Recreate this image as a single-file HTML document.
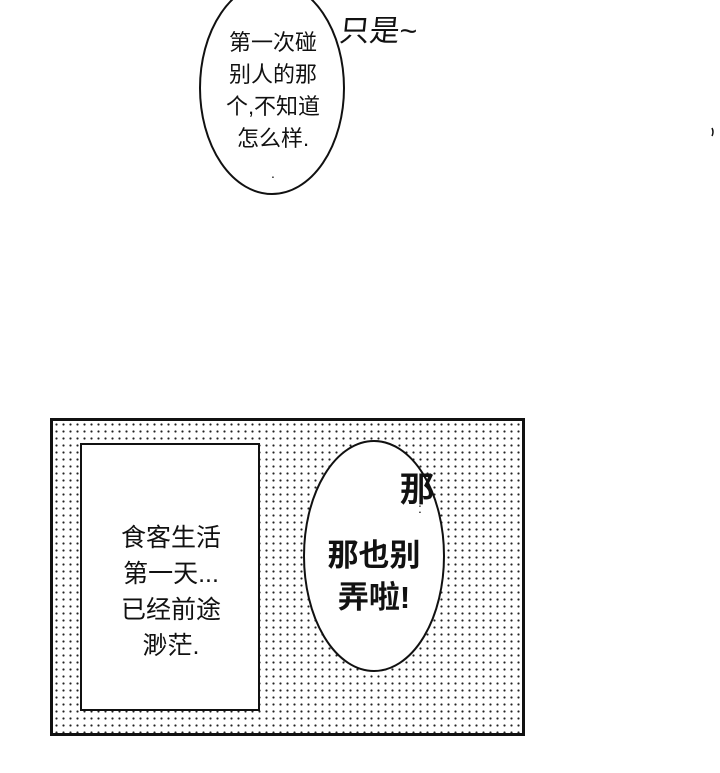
<!DOCTYPE html>
<html><head><meta charset="utf-8"><style>
body{margin:0;width:720px;height:773px;background:#fff;position:relative;overflow:hidden;font-family:"Liberation Sans","Noto Sans CJK SC",sans-serif;}
.abs{position:absolute;}
.dots{background-color:#fff;background-image:radial-gradient(circle,#222 0.9px,transparent 1.3px);background-size:7px 7px;}
.t{text-align:center;color:#111;}
</style></head><body>
<svg class="abs" style="left:0;top:0" width="720" height="773">
<ellipse cx="272" cy="88" rx="72" ry="106" fill="#fff" stroke="#111" stroke-width="2"/>
<path d="M712 128 q2 4 0 8" stroke="#111" fill="none" stroke-width="1.5"/>
</svg>
<div class="abs t" style="left:198px;top:27px;width:150px;font-size:22px;line-height:32px;">第一次碰<br>别人的那<br>个,不知道<br>怎么样.<br><span style="font-size:14px;line-height:14px">.</span></div>
<div class="abs" style="left:340px;top:6px;font-size:30px;font-family:'WenQuanYi Zen Hei',sans-serif;color:#111;transform:skewX(-6deg)">只是~</div>

<div class="abs dots" style="left:50px;top:418px;width:469px;height:312px;border:3px solid #111;"></div>
<div class="abs" style="left:80px;top:443px;width:176px;height:264px;border:2.5px solid #111;background:#fff;"></div>
<div class="abs t" style="left:80px;top:520px;width:182px;font-size:25px;line-height:36px;">食客生活<br>第一天...<br>已经前途<br>渺茫.</div>
<svg class="abs" style="left:0;top:0" width="720" height="773">
<ellipse cx="374" cy="556" rx="70" ry="115" fill="#fff" stroke="#111" stroke-width="2"/>
</svg>
<div class="abs t" style="left:296px;top:535px;width:156px;font-size:31px;line-height:42px;font-weight:bold;">那也别<br>弄啦!</div>
<div class="abs" style="left:400px;top:462px;font-size:34px;font-weight:bold;font-family:'WenQuanYi Zen Hei',sans-serif;color:#111;">那</div>
<div class="abs" style="left:418px;top:504px;font-size:14px;color:#111;line-height:9px">:</div>
</body></html>
